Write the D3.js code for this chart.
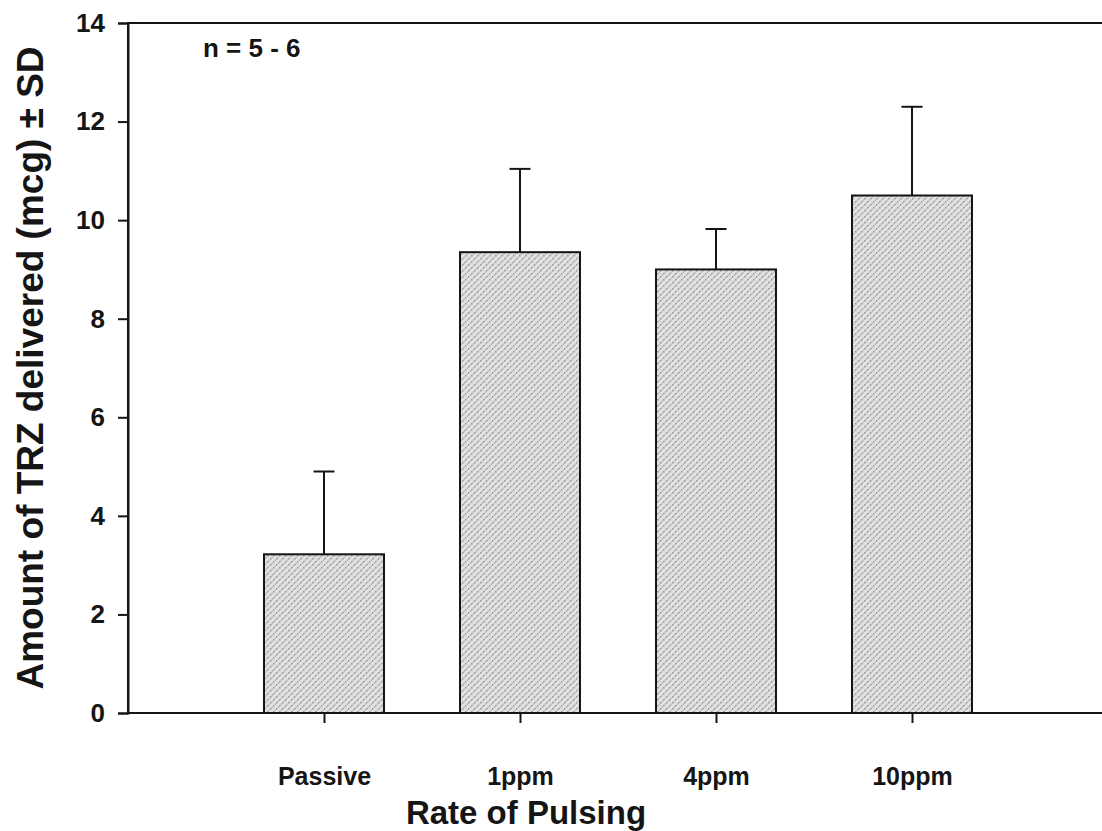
<!DOCTYPE html>
<html>
<head>
<meta charset="utf-8">
<script src="https://cdn.jsdelivr.net/npm/d3@7"></script>
<style>
  html, body { margin: 0; padding: 0; background: #fff; }
  svg { display: block; }
</style>
</head>
<body>
<svg id="chart" width="1102" height="831"></svg>
<script>
// Mean TRZ delivered per pulsing rate, with the +SD bar tops
const categories = ["Passive", "1ppm", "4ppm", "10ppm"];
const means = [3.22, 9.35, 9.0, 10.5];
const sdTops = [4.9, 11.04, 9.82, 12.3];
const yTicks = [0, 2, 4, 6, 8, 10, 12, 14];

const svg = d3.select("#chart");
const margin = { left: 128, top: 23, right: 1108, bottom: 713 };
const font = "'Liberation Sans', Arial, sans-serif";
const ink = "#151515";

const x = d3.scalePoint().domain(categories).range([margin.left, margin.right]).padding(1);
const y = d3.scaleLinear().domain([0, 14]).range([margin.bottom, margin.top]);
const barW = 120;

// stipple fill for the bars
const defs = svg.append("defs");
const pat = defs.append("pattern")
  .attr("id", "stipple").attr("patternUnits", "userSpaceOnUse")
  .attr("width", 6).attr("height", 6);
pat.append("rect").attr("width", 6).attr("height", 6).attr("fill", "#e2e2e2");
[[0, 0], [3, 3], [3, 0], [0, 3]].forEach(([px, py], i) => {
  pat.append("rect").attr("x", px + (i > 1 ? 1.5 : 0)).attr("y", py + (i > 1 ? 1.5 : 0))
    .attr("width", 1.5).attr("height", 1.5)
    .attr("fill", i > 1 ? "#b8b8b8" : "#959595");
});

// plot frame
svg.append("rect")
  .attr("x", margin.left).attr("y", margin.top)
  .attr("width", margin.right - margin.left).attr("height", margin.bottom - margin.top)
  .attr("fill", "none").attr("stroke", ink).attr("stroke-width", 2);

// error bars (upper only)
const eb = svg.append("g").attr("stroke", ink).attr("stroke-width", 2);
categories.forEach((c, i) => {
  eb.append("line").attr("x1", x(c)).attr("x2", x(c))
    .attr("y1", y(means[i])).attr("y2", y(sdTops[i]));
  eb.append("line").attr("x1", x(c) - 10.5).attr("x2", x(c) + 10.5)
    .attr("y1", y(sdTops[i])).attr("y2", y(sdTops[i]));
});

// bars
svg.append("g").selectAll("rect").data(categories).join("rect")
  .attr("x", d => x(d) - barW / 2)
  .attr("y", (d, i) => y(means[i]))
  .attr("width", barW)
  .attr("height", (d, i) => y(0) - y(means[i]))
  .attr("fill", "url(#stipple)")
  .attr("stroke", ink).attr("stroke-width", 2);

// y axis
const yAxis = svg.append("g")
  .attr("transform", `translate(${margin.left},0)`)
  .call(d3.axisLeft(y).tickValues(yTicks).tickSize(10).tickPadding(13).tickFormat(d3.format("d")));
yAxis.select(".domain").attr("stroke", ink).attr("stroke-width", 2);
yAxis.selectAll(".tick line").attr("stroke", ink).attr("stroke-width", 2);
yAxis.selectAll(".tick text")
  .attr("font-family", font).attr("font-size", 26).attr("font-weight", "bold").attr("fill", ink);

// x axis
const xAxis = svg.append("g")
  .attr("transform", `translate(0,${margin.bottom})`)
  .call(d3.axisBottom(x).tickSize(10).tickPadding(44));
xAxis.select(".domain").remove();
xAxis.selectAll(".tick line").attr("stroke", ink).attr("stroke-width", 2);
xAxis.selectAll(".tick text")
  .attr("font-family", font).attr("font-size", 25).attr("font-weight", "bold").attr("fill", ink);

// annotation
svg.append("text").attr("x", 203).attr("y", 57)
  .attr("font-family", font).attr("font-size", 26).attr("font-weight", "bold").attr("fill", ink)
  .text("n = 5 - 6");

// axis titles
svg.append("text").attr("x", 526).attr("y", 824).attr("text-anchor", "middle")
  .attr("font-family", font).attr("font-size", 33).attr("font-weight", "bold").attr("fill", ink)
  .text("Rate of Pulsing");

svg.append("text")
  .attr("transform", `translate(43,${(margin.top + margin.bottom) / 2}) rotate(-90)`)
  .attr("text-anchor", "middle")
  .attr("font-family", font).attr("font-size", 37).attr("font-weight", "bold").attr("fill", ink)
  .text("Amount of TRZ delivered (mcg) ± SD");
</script>
</body>
</html>
